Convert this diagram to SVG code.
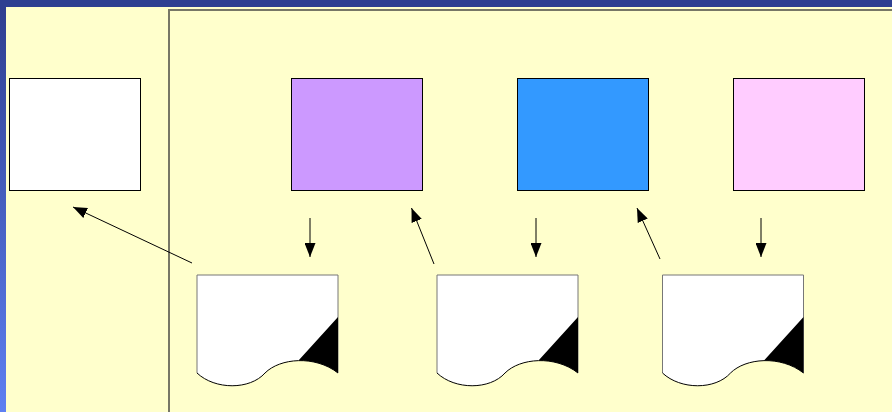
<svg xmlns="http://www.w3.org/2000/svg" width="892" height="412" viewBox="0 0 892 412">
<defs>
<linearGradient id="lb" x1="0" y1="0" x2="0" y2="1">
<stop offset="0" stop-color="#2E3D8E"/>
<stop offset="1" stop-color="#5E80F2"/>
</linearGradient>
<marker id="ah2" markerWidth="14" markerHeight="11" viewBox="0 0 14 11" refX="14" refY="5.5" markerUnits="userSpaceOnUse" orient="auto">
<path d="M0,0 L14,5.5 L0,11 Z" fill="#000"/>
</marker>
<g id="docshape">
<path d="M0,98 C18,115 53,115 68,98 C83,83 118,80 141,98 V0 H0 Z" fill="#fff" stroke="none"/>
<path d="M0,98 V0 H141 V98" fill="none" stroke="#777" stroke-width="1"/>
<path d="M0,98 C18,115 53,115 68,98 C83,83 118,80 141,98" fill="none" stroke="#000" stroke-width="1"/>
<path d="M141,42 L101.5,85.6 C115,85.25 129.5,89 141,98 Z" fill="#000"/>
</g>
</defs>
<style>
.box{stroke:#000;stroke-width:1}
.conn{stroke:#000;stroke-width:1;fill:none;marker-end:url(#ah2)}
</style>
<rect x="0" y="0" width="892" height="412" fill="#FFFFCC"/>
<rect x="0" y="0" width="6" height="412" fill="url(#lb)"/>
<rect x="0" y="0" width="892" height="7" fill="#2E3F91"/>
<path d="M169,412 V10 H892" fill="none" stroke="#777766" stroke-width="2"/>

<g id="box-white"><rect class="box" x="9.5" y="78.5" width="131" height="112" fill="#FFFFFF"/></g>
<g id="box-purple"><rect class="box" x="291.5" y="78.5" width="131" height="112" fill="#CC99FF"/></g>
<g id="box-blue"><rect class="box" x="517.5" y="78.5" width="131" height="112" fill="#3399FF"/></g>
<g id="box-pink"><rect class="box" x="733.5" y="78.5" width="131" height="112" fill="#FFCCFF"/></g>

<g id="doc1"><use href="#docshape" x="197" y="275"/></g>
<g id="doc2"><use href="#docshape" x="437" y="275"/></g>
<g id="doc3"><use href="#docshape" x="662.5" y="275"/></g>

<g id="connectors">
<line class="conn" x1="310" y1="218" x2="310" y2="257"/>
<line class="conn" x1="536" y1="218" x2="536" y2="257"/>
<line class="conn" x1="761" y1="218" x2="761" y2="257"/>
<line class="conn" x1="434" y1="264" x2="411.5" y2="208"/>
<line class="conn" x1="660" y1="259" x2="637" y2="208"/>
<line class="conn" x1="192" y1="263" x2="73" y2="207"/>
</g>
</svg>
